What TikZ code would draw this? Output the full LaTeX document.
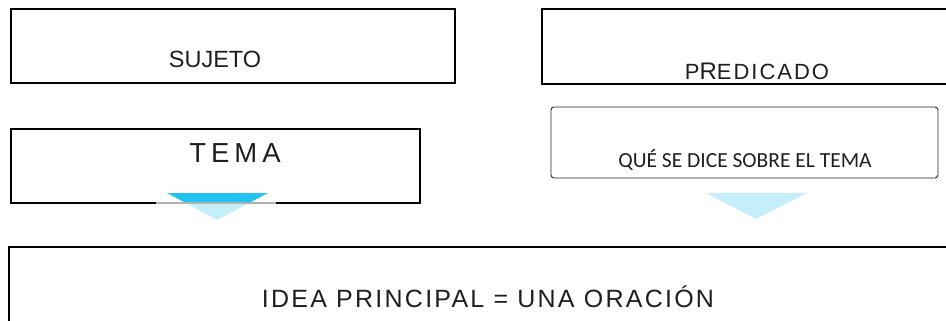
\documentclass[tikz,border=0pt]{standalone}
\usepackage{fontspec}
\setmainfont{Liberation Sans}
\newfontfamily\calfont{Carlito}
\usetikzlibrary{shapes}
\definecolor{cyandark}{HTML}{21C3F0}
\definecolor{cyanlight}{HTML}{C5EEFB}
\tikzstyle{bx}=[draw=black,line width=1.6pt]
\tikzstyle{bxr}=[draw=black!85,line width=.9pt,rounded corners=3pt]
\tikzstyle{lbl}=[anchor=base,inner sep=0pt,text=black!88]

\begin{document}
\begin{tikzpicture}[x=1pt,y=-1pt]
\useasboundingbox (0,0) rectangle (946,321);
\clip (0,0) rectangle (946,321);
\draw[bx] (11,9) rectangle (455,83);
\draw[bx] (542,9) rectangle (960,84);
\draw[bx] (11,129) rectangle (420,203);
\draw[bxr] (551,107) rectangle (938,178);
\draw[bx] (9,247) rectangle (960,340);
% arrow heads
\fill[cyanlight] (167,193) -- (268,193) -- (217,220) -- cycle;
\fill[cyandark] (167,193) -- (268,193) -- (249,203) -- (186,203) -- cycle;
\draw[draw=black!30,line width=1.6pt] (156,203) -- (276,203);
\fill[cyanlight] (706,193) -- (807,193) -- (756,219) -- cycle;
% labels
\node[lbl,font=\fontsize{23.5}{24}\selectfont] (sujeto) at (215,67) {SUJETO};
\node[lbl,font=\fontsize{22}{22}\selectfont\addfontfeature{LetterSpace=9}] (predicado) at (757,80) {P{\fontsize{24}{24}\selectfont R}EDICADO};
\node[lbl,font=\fontsize{27.5}{28}\selectfont\addfontfeature{LetterSpace=18}] (tema) at (235,162) {TEMA};
\node[lbl,font=\calfont\fontsize{21.5}{22}\selectfont] (quedice) at (745,167) {QUÉ SE DICE SOBRE EL TEMA};
\node[lbl,font=\fontsize{25}{25}\selectfont\addfontfeature{LetterSpace=9}] (idea) at (488,307) {IDEA PRINCIPAL = UNA ORACIÓN};
\end{tikzpicture}
\end{document}
